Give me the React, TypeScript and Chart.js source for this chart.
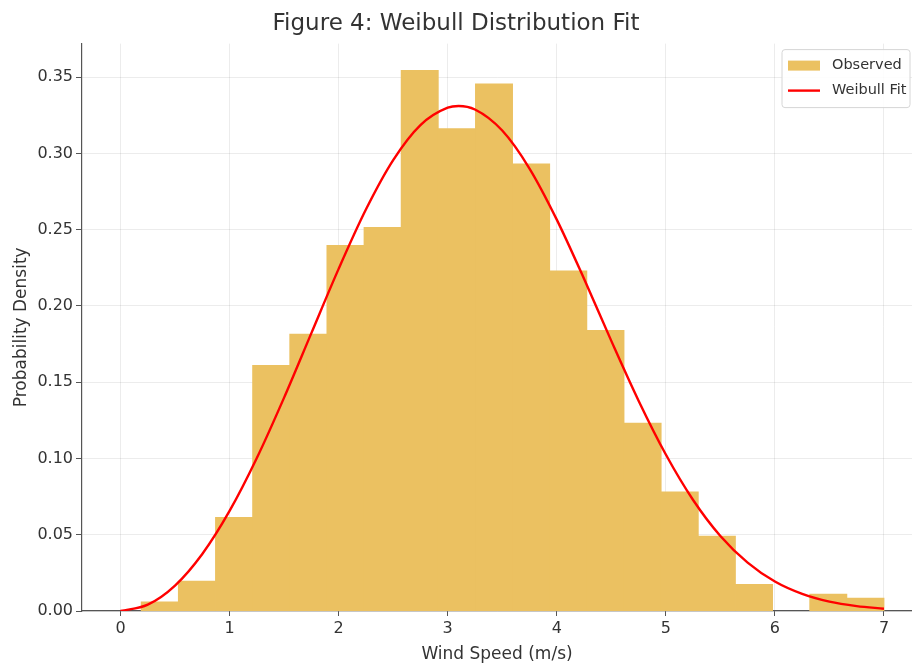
import { useEffect, useRef } from "react";
import { Chart, registerables } from "chart.js";

Chart.register(...registerables);

// Histogram bin edges (m/s) and observed density per bin
const binEdges = [
  0.19, 0.53, 0.871, 1.211, 1.552, 1.892, 2.233, 2.573, 2.914, 3.254, 3.595,
  3.935, 4.276, 4.617, 4.957, 5.298, 5.638, 5.979, 6.319, 6.66, 7.0,
];
const observedDensity = [
  0.006, 0.0195, 0.0613, 0.161, 0.1815, 0.2397, 0.2515, 0.3544, 0.3163, 0.3455,
  0.2931, 0.223, 0.1839, 0.1231, 0.0781, 0.049, 0.0175, 0, 0.011, 0.0085,
];

// Fitted Weibull density sampled along the wind-speed axis
const fitSpeeds = [
  0, 0.25, 0.5, 0.75, 1, 1.25, 1.5, 1.75, 2, 2.25, 2.5, 2.75, 3, 3.1, 3.25, 3.5,
  3.75, 4, 4.25, 4.5, 4.75, 5, 5.25, 5.5, 5.75, 6, 6.25, 6.5, 6.75, 7,
];
const fitDensity = [
  0, 0.0042, 0.0167, 0.0374, 0.0656, 0.1003, 0.1399, 0.1822, 0.2243, 0.2632,
  0.2956, 0.3186, 0.33, 0.3311, 0.3288, 0.315, 0.2901, 0.2566, 0.2178, 0.1771,
  0.1379, 0.1026, 0.0728, 0.0492, 0.0317, 0.0193, 0.0112, 0.0061, 0.0032, 0.0015,
];

const xTicks = [0, 1, 2, 3, 4, 5, 6, 7];
const yTicks = [0, 0.05, 0.1, 0.15, 0.2, 0.25, 0.3, 0.35];

const FONT = '"DejaVu Sans", "Liberation Sans", sans-serif';
const TEXT = "#333333";
const BAR_FILL = "rgb(235, 193, 97)";
const FIT_RED = "#ff0000";
const GRID = "rgba(0, 0, 0, 0.075)";
const SPINE = "#555555";

// Framed legend drawn in the upper-right corner of the plot area
const cornerLegend = {
  id: "cornerLegend",
  afterDraw(chart: Chart) {
    const { ctx, chartArea } = chart;
    const w = 128;
    const h = 58;
    const x = chartArea.right - w - 2;
    const y = chartArea.top + 6;
    ctx.save();
    ctx.beginPath();
    ctx.roundRect(x, y, w, h, 3);
    ctx.fillStyle = "rgba(255,255,255,0.85)";
    ctx.fill();
    ctx.strokeStyle = "#d6d6d6";
    ctx.lineWidth = 1;
    ctx.stroke();

    const labels = chart.data.datasets.map((d) => String(d.label));
    const barLabel = labels[1];
    const lineLabel = labels[0];

    // patch for the histogram
    ctx.fillStyle = BAR_FILL;
    ctx.fillRect(x + 6, y + 11, 32, 10);
    // stroke for the fit
    ctx.beginPath();
    ctx.moveTo(x + 6, y + 41);
    ctx.lineTo(x + 38, y + 41);
    ctx.strokeStyle = FIT_RED;
    ctx.lineWidth = 2.4;
    ctx.stroke();

    ctx.fillStyle = TEXT;
    ctx.font = `14.5px ${FONT}`;
    ctx.textBaseline = "middle";
    ctx.textAlign = "left";
    ctx.fillText(barLabel, x + 50, y + 16);
    ctx.fillText(lineLabel, x + 50, y + 41);
    ctx.restore();
  },
};

export default function App() {
  const canvasRef = useRef<HTMLCanvasElement>(null);

  useEffect(() => {
    const canvas = canvasRef.current;
    if (!canvas) return;

    const bars = observedDensity.map((y, i) => ({
      x: (binEdges[i] + binEdges[i + 1]) / 2,
      y,
    }));
    const curve = fitSpeeds.map((x, i) => ({ x, y: fitDensity[i] }));

    const chart = new Chart(canvas, {
      type: "bar",
      data: {
        datasets: [
          {
            type: "line",
            label: "Weibull Fit",
            data: curve,
            borderColor: FIT_RED,
            borderWidth: 2.4,
            pointRadius: 0,
            fill: false,
            cubicInterpolationMode: "monotone",
            order: 0,
          },
          {
            type: "bar",
            label: "Observed",
            data: bars,
            backgroundColor: BAR_FILL,
            borderWidth: 0,
            barPercentage: 1,
            categoryPercentage: 1,
            // slight overlap hides seams between neighbouring bins; empty bins stay empty
            inflateAmount: (c: any) => (c.raw && c.raw.y > 0 ? 0.4 : 0),
            order: 1,
          },
        ],
      } as any,
      options: {
        responsive: false,
        devicePixelRatio: 1,
        animation: false,
        layout: { padding: 0 },
        plugins: {
          legend: { display: false },
          tooltip: { enabled: false },
          title: {
            display: true,
            text: "Figure 4: Weibull Distribution Fit",
            color: TEXT,
            font: { family: FONT, size: 23, weight: "normal" },
            padding: { top: 10, bottom: 6 },
          },
        },
        scales: {
          x: {
            type: "linear",
            min: -0.353,
            max: 7.257,
            offset: false,
            z: 1,
            afterBuildTicks: (s: any) => {
              s.ticks = xTicks.map((value) => ({ value }));
            },
            afterFit: (s: any) => {
              s.height = 57;
            },
            grid: {
              offset: false,
              color: GRID,
              lineWidth: 1,
              drawTicks: true,
              tickLength: 5,
              tickColor: SPINE,
              tickWidth: 1,
            },
            border: { display: true, color: SPINE, width: 1.2 },
            ticks: {
              color: TEXT,
              font: { family: FONT, size: 16 },
              padding: 3,
              maxRotation: 0,
              autoSkip: false,
              callback: (v: any) => String(v),
            },
            title: {
              display: true,
              text: "Wind Speed (m/s)",
              color: TEXT,
              font: { family: FONT, size: 17 },
              padding: { top: 0, bottom: 3 },
            },
          },
          y: {
            type: "linear",
            min: 0,
            max: 0.372,
            z: 1,
            afterBuildTicks: (s: any) => {
              s.ticks = yTicks.map((value) => ({ value }));
            },
            afterFit: (s: any) => {
              s.width = 82;
            },
            grid: {
              color: GRID,
              lineWidth: 1,
              drawTicks: true,
              tickLength: 6,
              tickColor: SPINE,
              tickWidth: 1,
            },
            border: { display: true, color: SPINE, width: 1.2 },
            ticks: {
              color: TEXT,
              font: { family: FONT, size: 16 },
              padding: 3,
              callback: (v: any) => Number(v).toFixed(2),
            },
            title: {
              display: true,
              text: "Probability Density",
              color: TEXT,
              font: { family: FONT, size: 17 },
              padding: { top: 11, bottom: 0 },
            },
          },
        },
      },
      plugins: [cornerLegend],
    });

    return () => chart.destroy();
  }, []);

  return (
    <div
      style={{
        position: "absolute",
        left: 0,
        top: 0,
        width: 912,
        height: 668,
        background: "#ffffff",
      }}
    >
      <canvas
        ref={canvasRef}
        width={912}
        height={668}
        style={{ display: "block" }}
      />
    </div>
  );
}
